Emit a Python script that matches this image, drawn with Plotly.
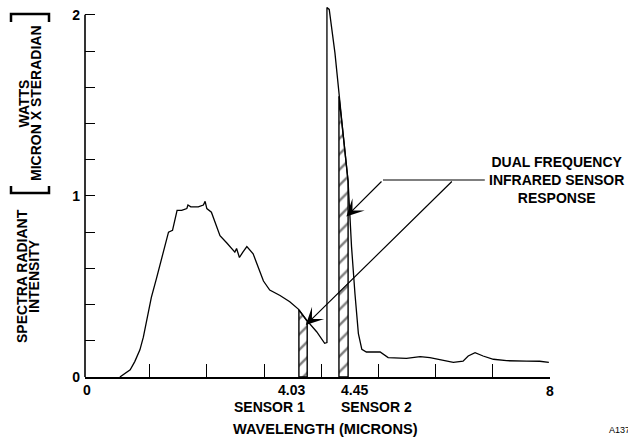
import numpy as np
import plotly.graph_objects as go

# ---- data ----
wavelength = [0.48, 0.66, 0.74, 0.83, 0.89, 0.95, 1.03, 1.12, 1.21, 1.33, 1.40, 1.48, 1.56,
              1.65, 1.67, 1.72, 1.85, 1.94, 1.97, 2.00, 2.08, 2.23, 2.35, 2.49, 2.52, 2.57,
              2.63, 2.70, 2.81, 2.90, 2.99, 3.10, 3.28, 3.45, 3.60, 3.74, 3.92, 4.06, 4.10,
              4.10, 4.14, 4.24, 4.31, 4.39, 4.47, 4.53, 4.59, 4.65, 4.71, 4.79, 5.03, 5.11,
              5.17, 5.49, 5.73, 5.90, 6.08, 6.31, 6.48, 6.57, 6.69, 6.83, 7.01, 7.24, 7.59,
              7.82, 7.98]
intensity = [0.0, 0.04, 0.085, 0.15, 0.22, 0.31, 0.44, 0.545, 0.65, 0.80, 0.81, 0.92, 0.92,
             0.93, 0.95, 0.94, 0.94, 0.95, 0.97, 0.93, 0.91, 0.78, 0.74, 0.69, 0.71, 0.66,
             0.69, 0.72, 0.68, 0.60, 0.53, 0.48, 0.45, 0.416, 0.375, 0.315, 0.25, 0.186, 0.19,
             2.04, 2.03, 1.79, 1.55, 1.32, 1.08, 0.72, 0.46, 0.24, 0.153, 0.138, 0.138, 0.122,
             0.107, 0.103, 0.112, 0.107, 0.094, 0.081, 0.087, 0.116, 0.134, 0.116, 0.098, 0.090,
             0.088, 0.087, 0.081]

sensor1_band = [3.61, 3.755]
sensor2_band = [4.31, 4.47]
sensor_values = ["4.03", "4.45"]
sensor_names = ["SENSOR 1", "SENSOR 2"]

x_tickvals = [1, 2, 3, 4, 5, 6, 7, 8]
x_ticktext = ["", "", "", "", "", "", "", "8"]
y_tickvals = [0, 0.2, 0.4, 0.6, 0.8, 1.0, 1.2, 1.4, 1.6, 1.8, 2.0]
y_ticktext = ["0", "", "", "", "", "1", "", "", "", "", "2"]

# ---- layout geometry ----
W, H = 628, 437
ML, MR, MT, MB = 85, 78, 4, 60
PW, PH = W - ML - MR, H - MT - MB
FONT = "Liberation Sans, Arial, sans-serif"


def px(x):
    return (x - ML) / PW


def py(y):
    return (H - MB - y) / PH


wl = np.array(wavelength)
inten = np.array(intensity)


def band(lo, hi):
    inside = [x for x in wavelength if lo < x < hi]
    xs = [lo] + inside + [hi]
    ys = list(np.interp(xs, wl, inten))
    return [lo] + xs + [hi, lo], [0] + ys + [0, 0]


fig = go.Figure()

for lo_hi in (sensor1_band, sensor2_band):
    bx, by = band(*lo_hi)
    fig.add_trace(go.Scatter(
        x=bx, y=by, mode="lines", fill="toself", fillcolor="white",
        fillpattern=dict(shape="/", size=11, solidity=0.22, fgcolor="black", bgcolor="white"),
        line=dict(color="black", width=1.4), hoverinfo="skip", showlegend=False))

fig.add_trace(go.Scatter(x=wavelength, y=intensity, mode="lines",
                         line=dict(color="black", width=1.3), showlegend=False))

fig.update_xaxes(range=[-0.13, 8.0], showgrid=False, zeroline=False, showline=True,
                 linecolor="black", linewidth=1.6, ticks="inside", ticklen=13, tickwidth=1.3,
                 tickcolor="black", tickvals=x_tickvals, ticktext=x_ticktext,
                 tickfont=dict(family=FONT, size=14, color="black", weight="bold"))
fig.update_yaxes(range=[0, 2.06], showgrid=False, zeroline=False, showline=False,
                 ticks="inside", ticklen=10, tickwidth=1.3, tickcolor="black",
                 tickvals=y_tickvals, ticktext=y_ticktext, ticklabelstandoff=4,
                 tickfont=dict(family=FONT, size=14, color="black", weight="bold"))

shapes = [
    # y axis line from 0 to 2
    dict(type="line", xref="paper", yref="y", x0=0, x1=0, y0=0, y1=2,
         line=dict(color="black", width=1.6)),
    # leader line of the callout
    dict(type="line", xref="x", yref="y", x0=5.08, x1=6.86, y0=1.088, y1=1.088,
         line=dict(color="black", width=1.2)),
    # brackets around the units
    dict(type="path", xref="paper", yref="paper",
         path=f"M{px(11)},{py(22)} L{px(11)},{py(14)} L{px(49)},{py(14)} L{px(49)},{py(22)}",
         line=dict(color="black", width=2.5)),
    dict(type="path", xref="paper", yref="paper",
         path=f"M{px(11)},{py(186)} L{px(11)},{py(193)} L{px(49)},{py(193)} L{px(49)},{py(186)}",
         line=dict(color="black", width=2.5)),
]

bold = dict(family=FONT, size=14, color="black", weight="bold")
ann = []
# arrows
for tip, tail in (((4.44, 0.886), (5.08, 1.088)), ((3.73, 0.287), (6.31, 1.088))):
    ann.append(dict(x=tip[0], y=tip[1], ax=tail[0], ay=tail[1], xref="x", yref="y",
                    axref="x", ayref="y", text="", showarrow=True, arrowhead=3,
                    arrowsize=2.4, arrowwidth=1.2, arrowcolor="black", standoff=0))
ann.append(dict(x=px(556), y=py(180), xref="paper", yref="paper",
                text="DUAL FREQUENCY<br>INFRARED SENSOR<br>RESPONSE", showarrow=False,
                font=bold, xanchor="center", yanchor="middle", align="center"))
# sensor labels
ann.append(dict(x=sensor1_band[1], y=py(390), xref="x", yref="paper", text=sensor_values[0],
                showarrow=False, font=bold, xanchor="right", yanchor="middle"))
ann.append(dict(x=sensor2_band[0], y=py(390), xref="x", yref="paper", text=sensor_values[1],
                showarrow=False, font=bold, xanchor="left", yanchor="middle"))
ann.append(dict(x=sensor1_band[1], y=py(407), xref="x", yref="paper", text=sensor_names[0],
                showarrow=False, font=bold, xanchor="right", yanchor="middle"))
ann.append(dict(x=sensor2_band[0], y=py(407), xref="x", yref="paper", text=sensor_names[1],
                showarrow=False, font=bold, xanchor="left", yanchor="middle"))
ann.append(dict(x=px(87), y=py(390), xref="paper", yref="paper", text="0",
                showarrow=False, font=bold, xanchor="center", yanchor="middle"))
ann.append(dict(x=px(325), y=py(429), xref="paper", yref="paper", text="WAVELENGTH (MICRONS)",
                showarrow=False, font=dict(family=FONT, size=14.6, color="black", weight="bold"),
                xanchor="center", yanchor="middle"))
# y title
for txt, xx, yy in (("SPECTRA RADIANT", 22, 276), ("INTENSITY", 34, 276),
                    ("WATTS", 24, 103.5), ("MICRON X STERADIAN", 36.5, 103.5)):
    ann.append(dict(x=px(xx), y=py(yy), xref="paper", yref="paper", text=txt, textangle=-90,
                    showarrow=False, font=bold, xanchor="center", yanchor="middle"))
ann.append(dict(x=px(607), y=py(430), xref="paper", yref="paper", text="A137",
                showarrow=False, font=dict(family=FONT, size=9, color="black"),
                xanchor="left", yanchor="middle"))

fig.update_layout(width=W, height=H, margin=dict(l=ML, r=MR, t=MT, b=MB),
                  plot_bgcolor="white", paper_bgcolor="white", showlegend=False,
                  shapes=shapes, annotations=ann)

fig.write_html("out.html", config={"displayModeBar": False},
               post_script="document.body.style.margin='0';document.body.style.overflow='hidden';")
